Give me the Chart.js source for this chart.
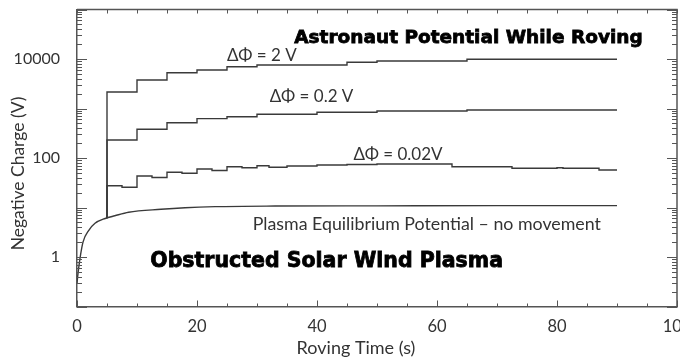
<!DOCTYPE html>
<html lang="en">
<head>
<meta charset="UTF-8">
<title>Astronaut Potential While Roving</title>
<script src="https://cdn.jsdelivr.net/npm/chart.js"></script>
<style>
    html, body { margin: 0; padding: 0; background: #fff; }
</style>
</head>
<body>
<canvas id="chart" width="680" height="364"></canvas>
<script>
    // Roving time (s) / negative charge (V)
    const eqTime   = [0, 0.2, 0.5, 1, 2, 3, 4.7, 6.3, 8.6, 14, 18, 23, 33, 50, 70, 90];
    const eqCharge = [0.3, 0.5, 0.94, 2.0, 3.5, 4.8, 6.0, 6.8, 8.0, 9.2, 9.9, 10.4, 10.7, 10.8, 10.9, 10.9];

    const dphi2Time   = [5, 5, 10, 15, 20, 25, 30, 45, 50, 65, 90];
    const dphi2Charge = [6.1, 2150, 3770, 5290, 6000, 6990, 7560, 8580, 9120, 9860, 9860];

    const dphi02Time   = [5, 5, 10, 15, 20, 25, 30, 40, 50, 65, 90];
    const dphi02Charge = [6.1, 231, 380, 517, 623, 683, 763, 838, 890, 933, 933];

    const dphi002Time   = [5, 5, 7.5, 10, 12.5, 15, 17.5, 20, 22.5, 25, 27.5, 30, 32, 35, 40, 45, 50, 62.5, 72.5, 80, 81, 87, 90];
    const dphi002Charge = [6.1, 27.6, 25.6, 43.3, 40.4, 51.4, 49.1, 60, 55.9, 66.7, 63.7, 69.9, 65, 68.9, 72.2, 73.9, 75.6, 66.7, 61.9, 63.5, 61.9, 57.2, 57.2];

    const xTickLabels = [0, 20, 40, 60, 80, 100];
    const yTickLabels = [1, 100, 10000];

    const lineColor = '#3a3a3a';
    const axisColor = '#555';
    const textColor = '#333';
    const bodyFont = 'Lato, "Open Sans", sans-serif';
    const heavyFont = '"DejaVu Sans", "Liberation Sans", sans-serif';

    const pts = (ts, vs) => ts.map((t, i) => ({ x: t, y: vs[i] }));

    // text placed in data coordinates (time, charge)
    const notes = [
        { text: 'Astronaut Potential While Roving', t: 65.25, v: 26500, font: 'bold 18.5px ' + heavyFont, heavy: true },
        { text: 'Obstructed Solar Wind Plasma', t: 41.6, v: 0.79, font: 'bold 20.5px ' + heavyFont, heavy: true },
        { text: '\u0394\u03A6 = 2 V', t: 30.8, v: 12000, font: '17px ' + bodyFont },
        { text: '\u0394\u03A6 = 0.2 V', t: 39.1, v: 1707, font: '17px ' + bodyFont },
        { text: '\u0394\u03A6 = 0.02V', t: 53.5, v: 115, font: '17px ' + bodyFont },
        { text: 'Plasma Equilibrium Potential \u2013 no movement', t: 58.3, v: 4.64, font: '17.8px ' + bodyFont }
    ];

    // inward ticks on all four sides, top/right frame, axis titles, notes
    const frameAndNotes = {
        id: 'frameAndNotes',
        afterDatasetsDraw(chart) {
            const { ctx, chartArea: a, scales: { x, y } } = chart;
            ctx.save();

            ctx.strokeStyle = axisColor;
            ctx.lineWidth = 1.5;
            ctx.beginPath();
            ctx.moveTo(a.left, a.top);
            ctx.lineTo(a.right, a.top);
            ctx.lineTo(a.right, a.bottom);
            ctx.stroke();

            ctx.lineWidth = 1;
            ctx.beginPath();
            for (let t = x.min; t <= x.max; t += 5) {
                const px = Math.round(x.getPixelForValue(t)) + 0.5;
                const len = t % 20 === 0 ? 6 : 3;
                ctx.moveTo(px, a.bottom);
                ctx.lineTo(px, a.bottom - len);
                ctx.moveTo(px, a.top);
                ctx.lineTo(px, a.top + 4);
            }
            for (let e = -1; e <= 5; e++) {
                for (let s = 1; s <= 9; s++) {
                    const v = s * Math.pow(10, e);
                    if (v < y.min || v > y.max) continue;
                    const py = Math.round(y.getPixelForValue(v)) + 0.5;
                    const len = s === 1 ? 10 : 5;
                    ctx.moveTo(a.left, py);
                    ctx.lineTo(a.left + len, py);
                    ctx.moveTo(a.right, py);
                    ctx.lineTo(a.right - len, py);
                }
            }
            ctx.stroke();

            ctx.fillStyle = textColor;
            ctx.textAlign = 'center';
            ctx.textBaseline = 'middle';
            ctx.font = '18px ' + bodyFont;
            ctx.fillText('Roving Time (s)', 356, 348);
            ctx.save();
            ctx.translate(18, 173.5);
            ctx.rotate(-Math.PI / 2);
            ctx.font = '17.5px ' + bodyFont;
            ctx.fillText('Negative Charge (V)', 0, 0);
            ctx.restore();

            notes.forEach(n => {
                const px = x.getPixelForValue(n.t);
                const py = y.getPixelForValue(n.v);
                ctx.font = n.font;
                if (n.heavy) {
                    ctx.fillStyle = '#000';
                    ctx.strokeStyle = '#000';
                    ctx.lineWidth = 0.8;
                    ctx.strokeText(n.text, px, py);
                } else {
                    ctx.fillStyle = textColor;
                }
                ctx.fillText(n.text, px, py);
            });
            ctx.restore();
        }
    };

    const lineStyle = {
        borderColor: lineColor,
        borderWidth: 1.4,
        pointRadius: 0,
        fill: false
    };

    new Chart(document.getElementById('chart'), {
        type: 'line',
        data: {
            datasets: [
                { ...lineStyle, label: 'Plasma Equilibrium Potential', data: pts(eqTime, eqCharge), cubicInterpolationMode: 'monotone' },
                { ...lineStyle, label: 'dPhi = 2 V', data: pts(dphi2Time, dphi2Charge), stepped: true },
                { ...lineStyle, label: 'dPhi = 0.2 V', data: pts(dphi02Time, dphi02Charge), stepped: true },
                { ...lineStyle, label: 'dPhi = 0.02 V', data: pts(dphi002Time, dphi002Charge), stepped: true }
            ]
        },
        options: {
            responsive: false,
            animation: false,
            layout: { padding: { top: 9.5, right: 3, left: 0, bottom: 0 } },
            plugins: {
                legend: { display: false },
                tooltip: { enabled: false }
            },
            scales: {
                x: {
                    type: 'linear',
                    min: 0,
                    max: 100,
                    grid: { display: false },
                    border: { display: true, color: axisColor, width: 1.5 },
                    afterBuildTicks: s => { s.ticks = xTickLabels.map(v => ({ value: v })); },
                    ticks: {
                        color: textColor,
                        font: { family: bodyFont, size: 16.5 },
                        padding: 2,
                        maxRotation: 0,
                        autoSkip: false
                    },
                    afterFit: s => {
                        s.height = 57.5;
                        s.paddingLeft = 0;
                        s.paddingRight = 0;
                    }
                },
                y: {
                    type: 'logarithmic',
                    min: 0.1,
                    max: 100000,
                    grid: { display: false },
                    border: { display: true, color: axisColor, width: 1.5 },
                    afterBuildTicks: s => { s.ticks = yTickLabels.map(v => ({ value: v })); },
                    ticks: {
                        color: textColor,
                        font: { family: bodyFont, size: 16 },
                        padding: 9,
                        autoSkip: false,
                        callback: v => String(v)
                    },
                    afterFit: s => {
                        s.width = 77;
                        s.paddingTop = 0;
                        s.paddingBottom = 0;
                    }
                }
            }
        },
        plugins: [frameAndNotes]
    });
</script>
</body>
</html>
